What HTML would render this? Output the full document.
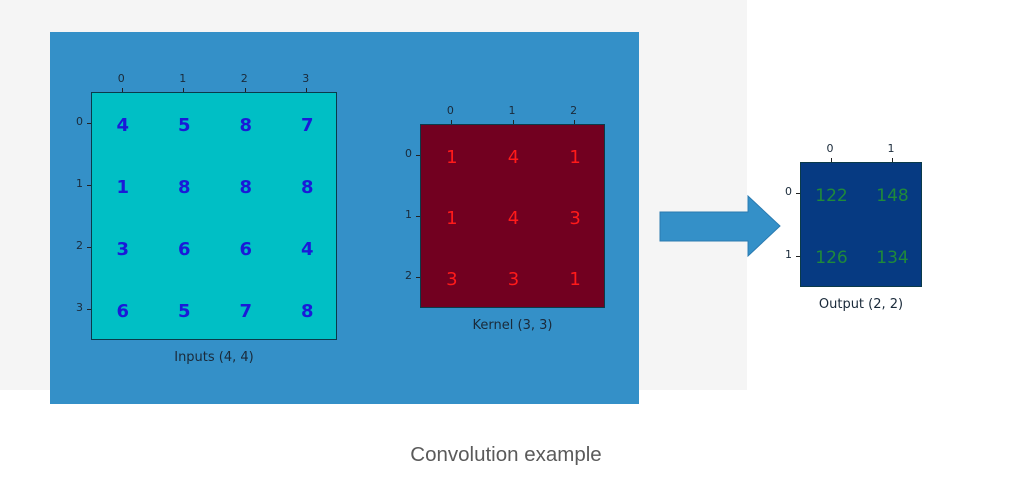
<!DOCTYPE html>
<html><head><meta charset="utf-8"><style>
body{margin:0;width:1012px;height:478px;background:#fff;position:relative;overflow:hidden;font-family:"Liberation Sans","DejaVu Sans",sans-serif}
.abs{position:absolute}
.tick{position:absolute;font-size:11px;color:#1a2a3a;font-family:"DejaVu Sans",sans-serif}
.cell{position:absolute;font-family:"DejaVu Sans",sans-serif;text-align:center}
</style></head><body>
<div class="abs" style="left:0;top:0;width:747px;height:390px;background:#f5f5f5"></div>
<div class="abs" style="left:50px;top:32px;width:589px;height:372px;background:#3490c8"></div>
<svg class="abs" style="left:0;top:0" width="1012" height="478">
<polygon points="660,212 748,212 748,196 780,226 748,256 748,241 660,241" fill="#3490c8" stroke="#2a7ab0" stroke-width="1"/>
</svg>
<div id="root"></div>
<div class="abs" style="left:0;width:1012px;top:443px;text-align:center;font-size:20.5px;color:#5a5a5a">Convolution example</div>
<script>
const inputValues=[[4,5,8,7],[1,8,8,8],[3,6,6,4],[6,5,7,8]];
const kernelValues=[[1,4,1],[1,4,3],[3,3,1]];
const outputValues=[[122,148],[126,134]];
const titles=["Inputs (4, 4)","Kernel (3, 3)","Output (2, 2)"];
const root=document.getElementById('root');
function grid(name,vals,x,y,w,h,bg,fg,fs,title,bold){
  const n=vals.length,m=vals[0].length,cw=w/m,ch=h/n;
  const box=document.createElement('div');
  box.className='abs';
  
  
  box.style.cssText=`left:${x}px;top:${y}px;width:${w}px;height:${h}px;background:${bg};border:1.5px solid #0a3a4a;box-sizing:border-box`;
  root.appendChild(box);
  for(let i=0;i<n;i++)for(let j=0;j<m;j++){
    const c=document.createElement('div');c.className='cell';
    
    
    c.textContent=vals[i][j];
    c.style.cssText=`left:${j*cw}px;top:${i*ch+ch/2-fs*0.5}px;width:${cw}px;font-size:${fs}px;color:${fg};font-weight:${bold?'bold':'normal'}`;
    box.appendChild(c);
  }
  for(let j=0;j<m;j++){
    const t=document.createElement('div');t.className='tick';
    
    
    t.textContent=j;t.style.left=(x+cw*(j+0.5)-4)+'px';t.style.top=(y-20)+'px';
    root.appendChild(t);
    const tk=document.createElement('div');tk.className='abs';tk.style.cssText=`left:${x+cw*(j+0.5)}px;top:${y-4}px;width:1px;height:4px;background:#222`;root.appendChild(tk);
  }
  for(let i=0;i<n;i++){
    const t=document.createElement('div');t.className='tick';
    
    
    t.textContent=i;t.style.left=(x-15)+'px';t.style.top=(y+ch*(i+0.5)-8)+'px';
    root.appendChild(t);
    const tk=document.createElement('div');tk.className='abs';tk.style.cssText=`left:${x-4}px;top:${y+ch*(i+0.5)}px;width:4px;height:1px;background:#222`;root.appendChild(tk);
  }
  const tt=document.createElement('div');tt.className='tick';
  
  
  tt.textContent=title;tt.style.cssText+=`left:${x}px;width:${w}px;text-align:center;top:${y+h+10}px;font-size:13px`;
  root.appendChild(tt);
}
grid('inputs',inputValues,91,92,246,248,'#00bfc5','#1a1ad8',18,titles[0],true);
grid('kernel',kernelValues,420,124,185,184,'#720020','#ff1a1a',18,titles[1],false);
grid('output',outputValues,800,162,122,125,'#063a82','#1f8a3a',17,titles[2],false);
</script>
</body></html>
